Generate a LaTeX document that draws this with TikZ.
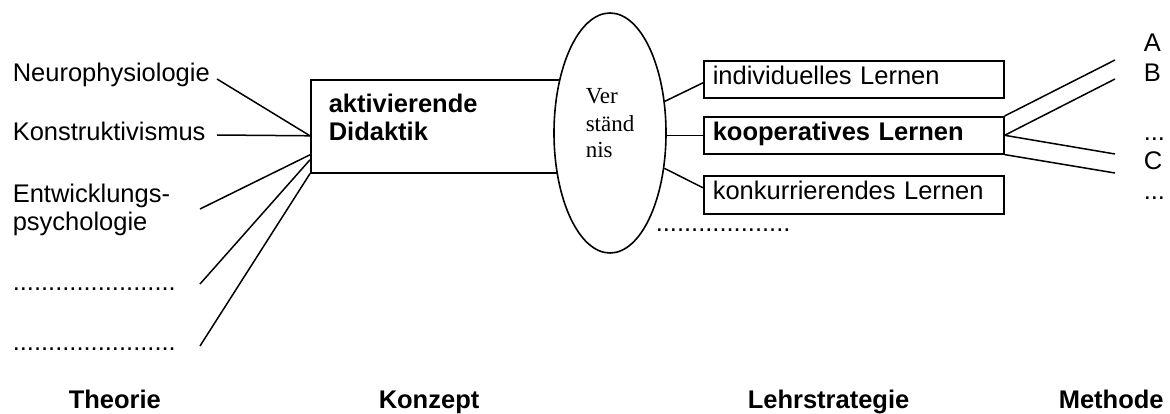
\documentclass[tikz,border=0pt]{standalone}
\usepackage{fontspec}
\setmainfont{Liberation Sans}
\newfontfamily\serifv{Liberation Serif}
\usetikzlibrary{shapes.geometric,calc}
\begin{document}
\begin{tikzpicture}[x=1pt,y=-1pt, line width=1.5pt,
  every node/.style={inner sep=0pt, font=\fontsize{25.5}{28}\selectfont},
  lbl/.style={anchor=base west},
  boldtxt/.style={font=\fontsize{25.5}{28}\selectfont\bfseries},
  sertxt/.style={anchor=base west, font=\fontsize{23}{27}\selectfont\serifv},
  sbox/.style={draw, line width=1.6pt, anchor=north west, minimum width=300pt, text width=282pt, inner xsep=9pt, align=left, text height=17pt, text depth=7pt}]
\useasboundingbox (0,0) rectangle (1170,414);

% Konzept box and ellipse
\node[draw, line width=1.6pt, anchor=north west, minimum width=290pt, minimum height=93pt] (akt) at (310,79) {};
\node[anchor=north west, align=left, boldtxt] (akttxt) at (328,93.7) {aktivierende\\Didaktik};
\node[draw, line width=1.6pt, ellipse, fill=white, minimum width=112pt, minimum height=240pt] (ell) at (610,133) {};
\node[sertxt] (v1) at (585,104) {Ver};
\node[sertxt] (v2) at (585,132) {ständ};
\node[sertxt] (v3) at (585,158) {nis};

% Theorie labels
\node[lbl] (neuro) at (12,82) {Neurophysiologie};
\node[lbl] (konstr) at (12,141) {Konstruktivismus};
\node[anchor=north west, align=left] (entw) at (12,183.7) {Entwicklungs-\\psychologie};
\node[lbl] (d1) at (12,290) {.......................};
\node[lbl] (d2) at (12,350) {.......................};
\coordinate (n1) at (217,79);
\coordinate (k1) at (217,135);
\coordinate (e1) at (200,209);
\coordinate (p1) at (200,284);
\coordinate (p2) at (200,346);
\draw (n1) -- ([yshift=-9.5pt]akt.west);
\draw (k1) -- ([yshift=-9.5pt]akt.west);
\draw (e1) -- ([yshift=-28.5pt]akt.west);
\draw (p1) -- ([yshift=-33.5pt]akt.west);
\draw (p2) -- (akt.south west);

% Lehrstrategie boxes
\node[sbox, minimum height=37pt] (ind) at (703,60) {individuelles Lernen};
\node[sbox, minimum height=37pt, boldtxt] (koop) at (703,116) {kooperatives Lernen};
\node[sbox, minimum height=38pt] (konk) at (703,175) {konkurrierendes Lernen};
\node[lbl] (d3) at (655,232) {...................};
\draw (ell.30) -- ([yshift=-3.5pt]ind.west);
\draw (ell.east |- koop.west) -- (koop.west);
\draw (ell.-33) -- ([yshift=7pt]konk.west);

% Methode
\coordinate (a1) at (1115,60);
\coordinate (b1) at (1115,79);
\coordinate (c0) at (1115,154);
\coordinate (c1) at (1115,173);
\draw (koop.north east) -- (a1);
\draw (koop.east) -- (b1);
\draw (koop.east) -- (c0);
\draw (koop.south east) -- (c1);
\node[lbl] (ma) at (1143,52) {A};
\node[lbl] (mb) at (1143,82) {B};
\node[lbl] (mx) at (1143,141) {...};
\node[lbl] (mc) at (1143,170) {C};
\node[lbl] (my) at (1143,200) {...};

% bottom captions
\node[lbl, boldtxt] (t1) at (68,408) {Theorie};
\node[lbl, boldtxt] (t2) at (378,408) {Konzept};
\node[lbl, boldtxt] (t3) at (747,408) {Lehrstrategie};
\node[lbl, boldtxt] (t4) at (1058,408) {Methode};
\end{tikzpicture}
\end{document}
